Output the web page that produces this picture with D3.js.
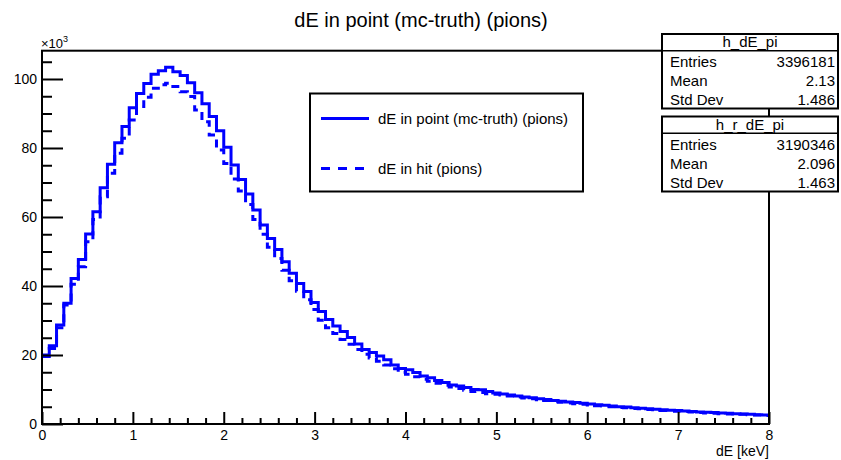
<!DOCTYPE html>
<html><head><meta charset="utf-8">
<script src="https://cdn.jsdelivr.net/npm/d3@7"></script>
<style>
body{margin:0;background:#fff;}
svg{display:block;font-family:"Liberation Sans",Arial,Helvetica,sans-serif;}
</style></head>
<body><svg id="c" width="841" height="460"></svg>
<script>
// ---- data (values in units of 10^3) ----
const xMin = 0, xMax = 8, nBins = 100;
const pointValues = [
 20.0,22.7,28.7,35.0,42.2,47.7,55.1,61.5,68.5,75.3,
 81.5,86.2,91.7,95.8,98.7,101.4,102.4,103.4,102.1,101.0,
 98.9,96.0,92.8,89.1,85.0,80.2,75.1,70.9,66.7,62.0,
 57.7,53.8,50.6,47.0,43.7,40.7,38.4,35.2,32.6,30.3,
 28.4,26.8,25.1,23.2,21.6,20.7,19.7,18.6,17.1,16.1,
 15.7,14.9,13.9,13.4,12.6,12.0,11.3,11.0,10.6,10.0,
 9.9,9.4,9.0,8.7,8.4,8.1,7.8,7.6,7.3,7.1,
 6.8,6.6,6.4,6.2,6.0,5.8,5.6,5.4,5.2,5.0,
 4.9,4.7,4.6,4.4,4.3,4.1,4.0,3.9,3.8,3.6,
 3.5,3.4,3.3,3.2,3.1,3.0,2.9,2.8,2.7,2.6
];
const hitValues = [
 19.6,21.9,27.9,34.5,40.5,45.6,52.8,59.3,65.9,72.7,
 78.5,82.8,88.1,92.0,94.7,97.3,98.3,98.8,97.8,96.3,
 94.9,91.0,87.6,83.8,79.4,75.5,71.0,67.5,63.6,59.3,
 55.0,51.2,48.0,44.6,41.5,38.5,36.0,33.2,30.1,27.9,
 26.2,24.5,23.1,21.6,20.2,19.1,18.2,17.1,16.0,15.0,
 14.4,13.7,13.0,12.4,11.8,11.2,10.7,10.3,9.8,9.4,
 9.1,8.8,8.6,8.4,8.1,7.8,7.5,7.3,7.0,6.8,
 6.5,6.3,6.1,5.9,5.7,5.5,5.3,5.2,5.0,4.8,
 4.7,4.5,4.4,4.2,4.1,3.9,3.8,3.7,3.6,3.5,
 3.3,3.2,3.1,3.0,2.9,2.9,2.8,2.7,2.6,2.5
];
const xTickLabels = [0,1,2,3,4,5,6,7,8];
const yTickLabels = [0,20,40,60,80,100];
const titleText = "dE in point (mc-truth) (pions)";
const xTitle = "dE [keV]";
const legendLabels = ["dE in point (mc-truth) (pions)", "dE in hit (pions)"];
const statNames = ["h_dE_pi", "h_r_dE_pi"];
const statRows = [
  [["Entries","3396181"],["Mean","2.13"],["Std Dev","1.486"]],
  [["Entries","3190346"],["Mean","2.096"],["Std Dev","1.463"]]
];

// ---- layout ----
const svg = d3.select("#c");
const L = 42, R = 769, T = 50.7, B = 424;
const x = d3.scaleLinear().domain([xMin, xMax]).range([L, R]);
const y = d3.scaleLinear().domain([0, 108.2]).range([B, T]);
const blue = "#0000ff";

// title
svg.append("text").attr("x", 421).attr("y", 27).attr("text-anchor","middle")
  .attr("font-size", 20).text(titleText);

// histograms
const bw = (xMax - xMin) / nBins;
function stepPts(vals){
  const pts = [];
  vals.forEach((v,i)=>{ pts.push([xMin + i*bw, v]); pts.push([xMin + (i+1)*bw, v]); });
  return pts;
}
const line = d3.line().x(d=>x(d[0])).y(d=>y(d[1]));
const plot = svg.append("g");
plot.append("path").attr("d", line(stepPts(pointValues)))
  .attr("fill","none").attr("stroke",blue).attr("stroke-width",3);
plot.append("path").attr("d", line(stepPts(hitValues)))
  .attr("fill","none").attr("stroke",blue).attr("stroke-width",3)
  .attr("stroke-dasharray","8,6");

// axes
const yMajor = d3.axisLeft(y).tickValues(yTickLabels).tickSizeInner(-21).tickSizeOuter(0).tickPadding(5)
  .tickFormat(d3.format("d"));
const yMinor = d3.axisLeft(y).tickValues(d3.range(0, 108, 5).filter(v=>v%20!==0)).tickSizeInner(-10).tickSizeOuter(0).tickFormat("");
const xMajor = d3.axisBottom(x).tickValues(xTickLabels).tickSizeInner(-12).tickSizeOuter(0).tickPadding(6)
  .tickFormat(d3.format("d"));
const xMinor = d3.axisBottom(x).tickValues(d3.range(0, 8.01, 0.2).filter(v=>Math.abs(v-Math.round(v))>1e-6)).tickSizeInner(-6).tickSizeOuter(0).tickFormat("");

function styleAxis(g){
  g.select(".domain").remove();
  g.selectAll("line").attr("stroke","#000").attr("stroke-width",2);
  g.selectAll("text").attr("font-size",14).attr("fill","#000")
   .attr("font-family",'"Liberation Sans",Arial,sans-serif');
}
svg.append("g").attr("transform",`translate(${L},0)`).call(yMinor).call(styleAxis);
svg.append("g").attr("transform",`translate(${L},0)`).call(yMajor).call(styleAxis);
svg.append("g").attr("transform",`translate(0,${B})`).call(xMinor).call(styleAxis);
const gx = svg.append("g").attr("transform",`translate(0,${B})`).call(xMajor).call(styleAxis);
gx.selectAll("text").attr("dy","0.71em");

// frame
svg.append("rect").attr("x",L).attr("y",T).attr("width",R-L).attr("height",B-T)
  .attr("fill","none").attr("stroke","#000").attr("stroke-width",2);

// x10^3
const ex = svg.append("text").attr("x",41).attr("y",48).attr("font-size",13);
ex.append("tspan").text("\u00d710");
ex.append("tspan").attr("dy",-6).attr("font-size",9).text("3");

// x title
svg.append("text").attr("x",769).attr("y",456).attr("text-anchor","end")
  .attr("font-size",14).text(xTitle);

// legend
const lg = svg.append("g");
lg.append("rect").attr("x",310).attr("y",93.5).attr("width",273).attr("height",98)
  .attr("fill","#fff").attr("stroke","#000").attr("stroke-width",2);
[0,1].forEach(i=>{
  const yy = i===0 ? 118.5 : 168.5;
  lg.append("line").attr("x1",321).attr("x2",369).attr("y1",yy).attr("y2",yy)
    .attr("stroke",blue).attr("stroke-width",3)
    .attr("stroke-dasharray", i===1 ? "9,8" : null);
  lg.append("text").attr("x",378).attr("y",yy+5).attr("font-size",15).text(legendLabels[i]);
});

// stat boxes
const boxes = [{top:34, bottom:108.5, rows:[62,81,99.5]},{top:116.5, bottom:191.5, rows:[145,164,183]}];
boxes.forEach((b,k)=>{
  const g = svg.append("g");
  g.append("rect").attr("x",662).attr("y",b.top).attr("width",176).attr("height",b.bottom-b.top)
    .attr("fill","#fff").attr("stroke","#000").attr("stroke-width",2);
  g.append("line").attr("x1",662).attr("x2",838).attr("y1",b.top+16.7).attr("y2",b.top+16.7)
    .attr("stroke","#000").attr("stroke-width",1.5);
  g.append("text").attr("x",750).attr("y",b.top+13).attr("text-anchor","middle")
    .attr("font-size",15).text(statNames[k]);
  statRows[k].forEach((r,j)=>{
    g.append("text").attr("x",670).attr("y",b.rows[j]+5).attr("font-size",15).text(r[0]);
    g.append("text").attr("x",835).attr("y",b.rows[j]+5).attr("text-anchor","end").attr("font-size",15).text(r[1]);
  });
});
</script>
</body></html>
